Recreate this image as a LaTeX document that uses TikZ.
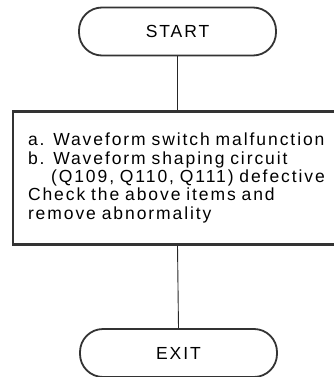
\documentclass[tikz,border=0pt]{standalone}
\usepackage{fontspec}
\setmainfont{Liberation Sans}[LetterSpace=11]
\begin{document}
\begin{tikzpicture}[x=1pt,y=-1pt,
  every node/.style={font=\fontsize{17.5pt}{18.4pt}\selectfont},
  term/.style={draw=black!80,line width=1.8pt,rounded corners=23pt,
    minimum width=197pt,minimum height=48pt,inner sep=0pt},
  stepbox/.style={draw=black!80,line width=2.2pt,text width=300pt,align=left,
    minimum height=133pt,inner xsep=15pt,inner ysep=0pt},
  link/.style={draw=black!85,line width=0.9pt}]
\useasboundingbox (0,0) rectangle (334,377);

% start
\node[term] (start) at (177.5,31.5) {START};

% check box
\node[stepbox] (check) at (178,178) {a. Waveform switch malfunction\\
b. Waveform shaping circuit\\
\hspace*{23pt}(Q109, Q110, Q111) defective\\
Check the above items and\\
remove abnormality};

% exit
\node[term] (exit) at (178.5,353) {EXIT};

% flow lines
\draw[link] (start.south) -- (start.south |- check.north);
\draw[link] (start.south |- check.south) -- (exit.north);

\end{tikzpicture}
\end{document}
